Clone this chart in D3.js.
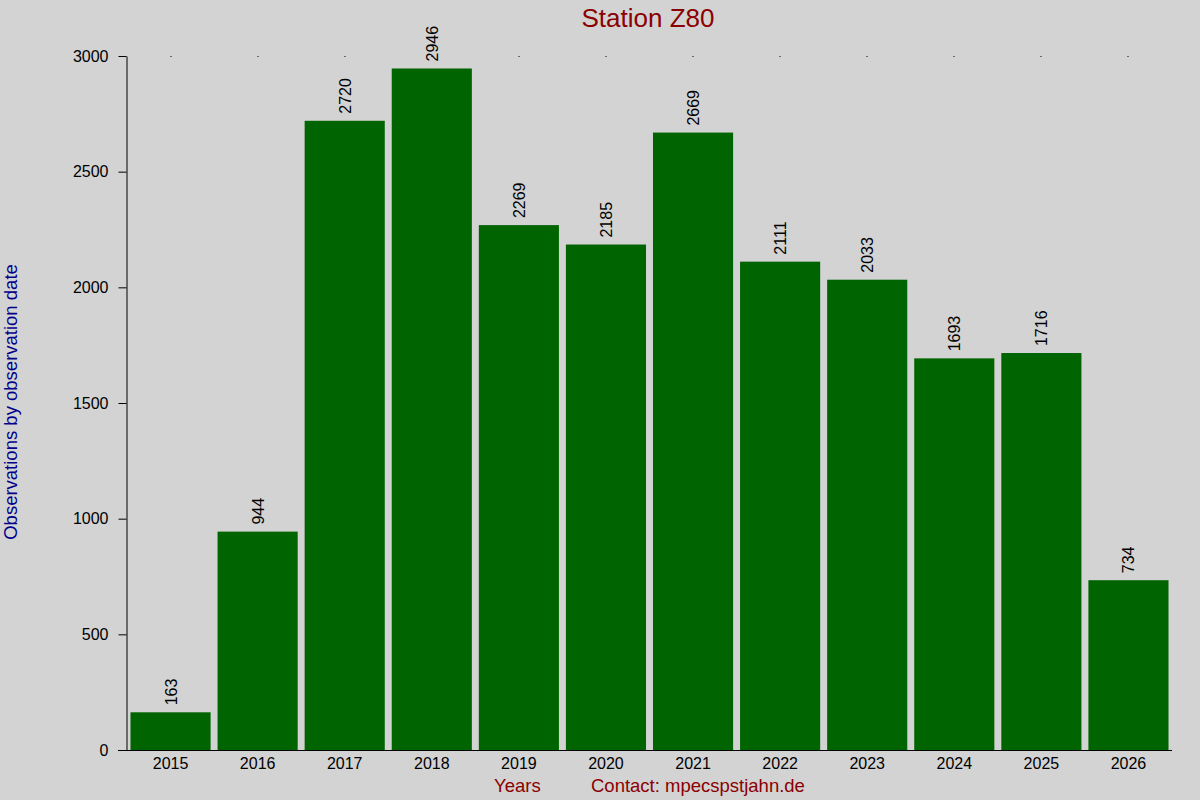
<!DOCTYPE html>
<html>
<head>
<meta charset="utf-8">
<script src="https://cdn.jsdelivr.net/npm/d3@7"></script>
<style>
  body { margin: 0; background: #d3d3d3; }
  svg { display: block; font-family: "Liberation Sans", Arial, sans-serif; }
</style>
</head>
<body>
<svg width="1200" height="800"></svg>
<script>
const YEARS = ['2015', '2016', '2017', '2018', '2019', '2020', '2021', '2022', '2023', '2024', '2025', '2026'];
const COUNTS = [163, 944, 2720, 2946, 2269, 2185, 2669, 2111, 2033, 1693, 1716, 734];
const Y_TICKS = [0, 500, 1000, 1500, 2000, 2500, 3000];

const data = YEARS.map((year, i) => ({ year, value: COUNTS[i] }));

const plotLeft = 127, plotRight = 1172, plotTop = 56, plotBottom = 750;
const FONT = '"Liberation Sans", Arial, sans-serif';

const xScale = d3.scaleBand().domain(YEARS).range([plotLeft, plotRight]).paddingInner(0.08).paddingOuter(0.04);
const yScale = d3.scaleLinear().domain([0, 3000]).range([plotBottom, plotTop]);

const svg = d3.select('svg');
svg.append('rect').attr('width', 1200).attr('height', 800).attr('fill', '#d3d3d3');

// bars
svg
  .selectAll('.bar')
  .data(data)
  .enter()
  .append('rect')
  .classed('bar', true)
  .attr('x', d => xScale(d.year))
  .attr('y', d => yScale(d.value))
  .attr('width', xScale.bandwidth())
  .attr('height', d => plotBottom - yScale(d.value))
  .attr('fill', '#006400');

// value labels
svg
  .selectAll('.val')
  .data(data)
  .enter()
  .append('text')
  .classed('val', true)
  .attr('transform', d => `translate(${xScale(d.year) + xScale.bandwidth() / 2 + 6},${yScale(d.value) - 7}) rotate(-90)`)
  .attr('font-size', 16)
  .attr('fill', '#000')
  .text(d => d.value);

// y axis
const yAxis = svg
  .append('g')
  .attr('transform', `translate(${plotLeft - 0.5},0)`)
  .call(d3.axisLeft(yScale).tickValues(Y_TICKS).tickFormat(d3.format('d')).tickSize(8).tickPadding(10).tickSizeOuter(0));
yAxis.select('.domain').attr('stroke', '#000');
yAxis.selectAll('text').attr('font-size', 16).attr('font-family', FONT).attr('fill', '#000');

// x axis
const xAxis = svg
  .append('g')
  .attr('transform', `translate(0,${plotBottom + 0.5})`)
  .call(d3.axisBottom(xScale).tickSize(0).tickPadding(7).tickSizeOuter(0));
xAxis.select('.domain').attr('d', `M${plotLeft - 9},0H${plotRight}`).attr('stroke', '#000');
xAxis.selectAll('text').attr('font-size', 16).attr('font-family', FONT).attr('fill', '#000');

// small dots at the top
svg
  .selectAll('.dot')
  .data(YEARS)
  .enter()
  .append('rect')
  .attr('x', d => Math.round(xScale(d) + xScale.bandwidth() / 2) - 0.5)
  .attr('y', plotTop)
  .attr('width', 1)
  .attr('height', 1)
  .attr('fill', '#000');

// titles
svg.append('text')
  .attr('x', 648).attr('y', 27)
  .attr('text-anchor', 'middle')
  .attr('font-size', 26)
  .attr('fill', '#8b0000')
  .text('Station Z80');

svg.append('text')
  .attr('transform', 'translate(17,402) rotate(-90)')
  .attr('text-anchor', 'middle')
  .attr('font-size', 18.5)
  .attr('fill', '#00008b')
  .text('Observations by observation date');

svg.append('text')
  .attr('x', 494).attr('y', 792)
  .attr('font-size', 18.5)
  .attr('fill', '#8b0000')
  .text('Years');

svg.append('text')
  .attr('x', 591).attr('y', 792)
  .attr('font-size', 18.5)
  .attr('fill', '#8b0000')
  .text('Contact: mpecspstjahn.de');
</script>
</body>
</html>
